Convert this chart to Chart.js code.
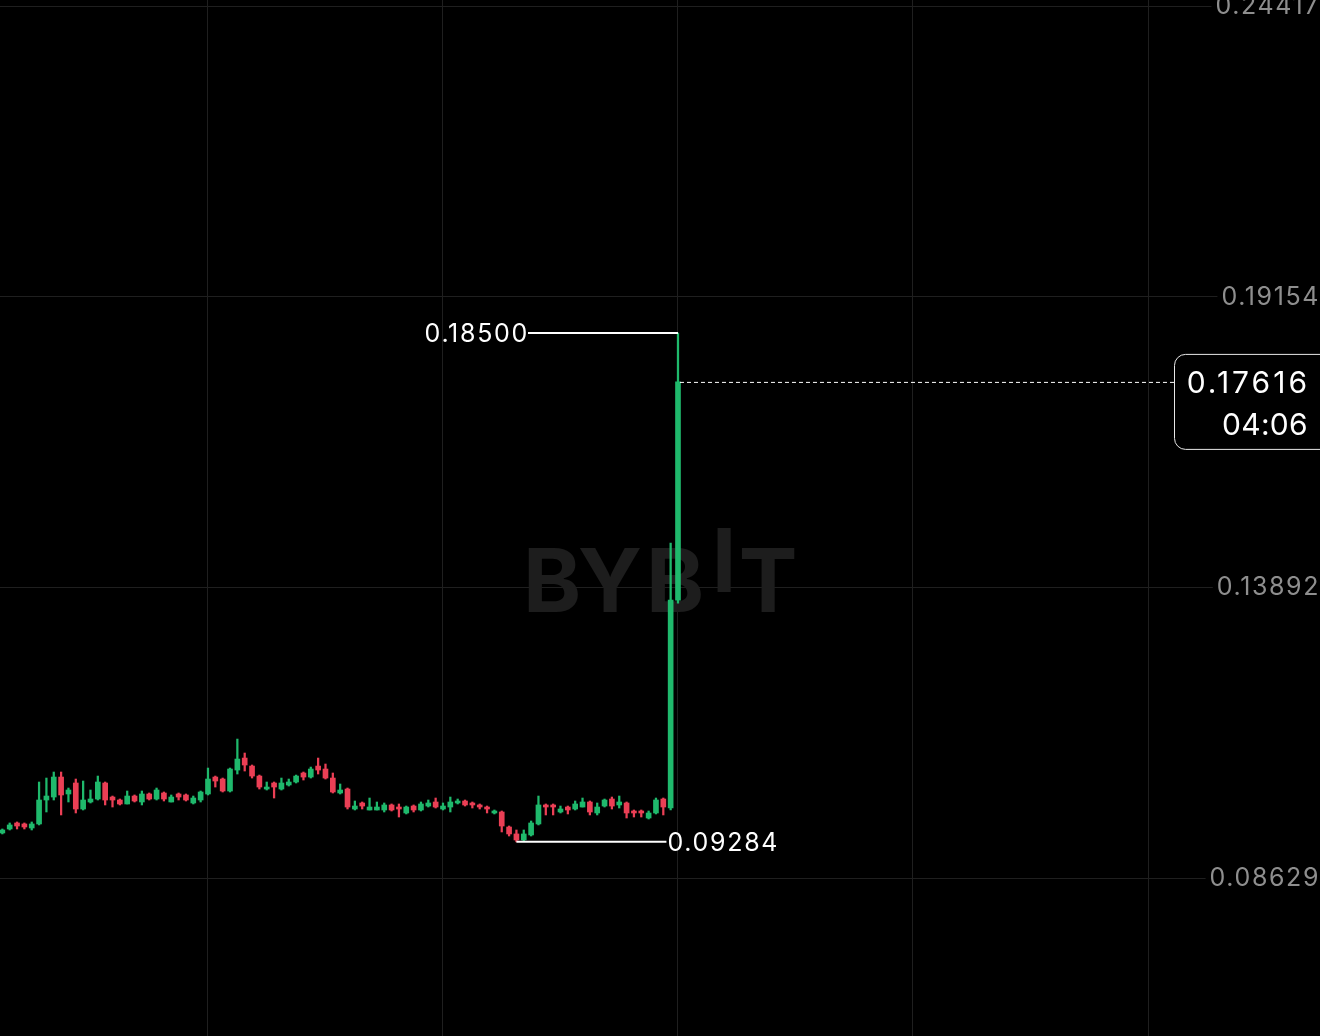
<!DOCTYPE html>
<html>
<head>
<meta charset="utf-8">
<title>Candles</title>
<script src="https://cdn.jsdelivr.net/npm/chart.js@4.4.1/dist/chart.umd.min.js"></script>
<style>
    html, body { margin:0; padding:0; background:#000; overflow:hidden; }
    #wrap { width:1320px; height:1036px; }
</style>
</head>
<body>
<div id="wrap"><canvas id="candleChart" width="1320" height="1036"></canvas></div>
<script>

// ==========================
// DATA
// ==========================

const opens = [
    0.09445,0.09517,0.09626,0.09608,0.09535,0.09608,0.10042,0.10096,0.10458,0.10151,
    0.10350,0.09879,0.10006,0.10060,0.10350,0.10096,0.10042,0.09970,0.10114,0.10006,
    0.10151,0.10060,0.10169,0.10006,0.10151,0.10133,0.09988,0.10042,0.10151,0.10458,
    0.10422,0.10205,0.10585,0.10802,0.10657,0.10476,0.10241,0.10350,0.10241,0.10314,
    0.10368,0.10531,0.10458,0.10657,0.10603,0.10440,0.10169,0.10241,0.09879,0.09988,
    0.09861,0.09861,0.09861,0.09952,0.09915,0.09807,0.09933,0.09861,0.09933,0.10006,
    0.09879,0.09915,0.09988,0.10024,0.09988,0.09952,0.09915,0.09807,0.09825,0.09553,
    0.09427,0.09318,0.09409,0.09608,0.09952,0.09952,0.09825,0.09915,0.09879,0.09915,
    0.10006,0.09807,0.09933,0.10060,0.09952,0.09988,0.09843,0.09843,0.09716,0.09807,
    0.10060,0.09897,0.13662
];

const highs = [
    0.09517,0.09626,0.09644,0.09626,0.09644,0.10368,0.10440,0.10549,0.10549,0.10259,
    0.10422,0.10386,0.10223,0.10476,0.10368,0.10114,0.10060,0.10205,0.10133,0.10205,
    0.10169,0.10259,0.10187,0.10133,0.10169,0.10151,0.10114,0.10205,0.10621,0.10476,
    0.10440,0.10621,0.11146,0.10893,0.10676,0.10494,0.10368,0.10368,0.10440,0.10422,
    0.10494,0.10549,0.10639,0.10802,0.10694,0.10531,0.10332,0.10259,0.10024,0.10006,
    0.10078,0.10006,0.09988,0.09970,0.09970,0.09933,0.09952,0.10006,0.10042,0.10078,
    0.09988,0.10096,0.10060,0.10042,0.10006,0.09970,0.09933,0.09861,0.09843,0.09571,
    0.09499,0.09499,0.09662,0.10114,0.09970,0.09970,0.09933,0.09933,0.10024,0.10078,
    0.10024,0.09988,0.10060,0.10096,0.10114,0.10006,0.09861,0.09861,0.09843,0.10078,
    0.10078,0.14694,0.18500
];

const lows = [
    0.09427,0.09499,0.09517,0.09517,0.09499,0.09590,0.09825,0.10042,0.09771,0.10006,
    0.09807,0.09861,0.09988,0.10042,0.09952,0.09915,0.09952,0.09970,0.10006,0.09952,
    0.10042,0.10042,0.10024,0.10006,0.10042,0.10024,0.09970,0.10006,0.10133,0.10277,
    0.10187,0.10187,0.10513,0.10567,0.10440,0.10241,0.10223,0.10078,0.10223,0.10295,
    0.10350,0.10404,0.10440,0.10513,0.10422,0.10169,0.10151,0.09879,0.09861,0.09879,
    0.09861,0.09861,0.09825,0.09843,0.09734,0.09789,0.09825,0.09843,0.09915,0.09897,
    0.09861,0.09825,0.09970,0.09933,0.09897,0.09879,0.09807,0.09789,0.09463,0.09390,
    0.09284,0.09300,0.09390,0.09590,0.09771,0.09771,0.09807,0.09789,0.09861,0.09915,
    0.09771,0.09771,0.09915,0.09879,0.09897,0.09716,0.09734,0.09734,0.09698,0.09789,
    0.09771,0.09861,0.13608
];

const closes = [
    0.09499,0.09590,0.09571,0.09553,0.09608,0.10042,0.10114,0.10458,0.10133,0.10223,
    0.09879,0.10042,0.10060,0.10368,0.10042,0.10042,0.09970,0.10114,0.10024,0.10151,
    0.10060,0.10223,0.10060,0.10096,0.10096,0.10042,0.10078,0.10187,0.10422,0.10386,
    0.10205,0.10603,0.10784,0.10676,0.10476,0.10277,0.10277,0.10277,0.10350,0.10368,
    0.10476,0.10458,0.10603,0.10585,0.10440,0.10187,0.10223,0.09915,0.09933,0.09933,
    0.09915,0.09915,0.09952,0.09861,0.09879,0.09915,0.09861,0.09970,0.09988,0.09915,
    0.09933,0.10006,0.10024,0.09952,0.09952,0.09915,0.09879,0.09843,0.09571,0.09427,
    0.09318,0.09427,0.09626,0.09952,0.09915,0.09915,0.09879,0.09861,0.09970,0.10006,
    0.09825,0.09915,0.10042,0.09933,0.10006,0.09807,0.09807,0.09807,0.09807,0.10042,
    0.09915,0.13662,0.17616
];

// price axis ticks and time grid positions (candle index)
const priceTicks = [0.08629, 0.13892, 0.19154, 0.24417];
const timeGrid = [-4, 28, 60, 92, 124, 156];

const countdown = "04:06";

const GREEN = "#1fb96c";
const RED = "#eb3f55";

// ==========================
// BUILD DATASETS
// ==========================

let bodies = [];
let wicks = [];

opens.forEach((o, i) => {
    bodies.push({ x: i, y: [o, closes[i]] });
    wicks.push({ x: i, y: [lows[i], highs[i]] });
});

function candleColor(ctx){
    let i = ctx.dataIndex;
    return closes[i] >= opens[i] ? GREEN : RED;
}

// ==========================
// PLUGINS
// ==========================

// wider tracking, like the app's font
const tracking = {
    id: "tracking",
    beforeLayout(chart){ chart.ctx.letterSpacing = "1.6px"; },
    beforeDraw(chart){ chart.ctx.letterSpacing = "1.6px"; }
};

const watermark = {
    id: "watermark",
    beforeDatasetsDraw(chart){
        const c = chart.ctx;
        c.save();
        c.letterSpacing = "0px";
        c.fillStyle = "#1d1d1d";
        c.font = "bold 88px Inter";
        c.textAlign = "center";
        c.textBaseline = "alphabetic";
        c.fillText("B", 552, 612);
        c.fillText("Y", 610, 612);
        c.fillText("B", 675, 612);
        c.fillText("I", 724, 592);
        c.fillText("T", 768, 612);
        c.restore();
    }
};

const markers = {
    id: "markers",
    afterDatasetsDraw(chart){
        const c = chart.ctx;
        const xs = chart.scales.x;
        const ys = chart.scales.y;

        let hi = Math.max(...highs);
        let lo = Math.min(...lows);
        let hiIdx = highs.indexOf(hi);
        let loIdx = lows.indexOf(lo);
        let last = closes.length - 1;

        c.save();
        c.font = "25px Inter";
        c.letterSpacing = "1.7px";
        c.fillStyle = "#ffffff";
        c.strokeStyle = "#ffffff";
        c.lineWidth = 2;
        c.textBaseline = "middle";

        // max
        let hx = xs.getPixelForValue(hiIdx);
        let hy = ys.getPixelForValue(hi);
        c.beginPath();
        c.moveTo(hx, hy);
        c.lineTo(hx - 150, hy);
        c.stroke();
        c.textAlign = "right";
        c.fillText(hi.toFixed(5), hx - 149, hy + 1);

        // min
        let lx = xs.getPixelForValue(loIdx);
        let ly = ys.getPixelForValue(lo);
        c.beginPath();
        c.moveTo(lx, ly);
        c.lineTo(lx + 150, ly);
        c.stroke();
        c.textAlign = "left";
        c.fillText(lo.toFixed(5), lx + 151, ly + 2);

        // last price line
        let px = xs.getPixelForValue(last);
        let py = ys.getPixelForValue(closes[last]);
        let boxX = 1174;
        c.lineWidth = 1;
        c.setLineDash([4, 3]);
        c.beginPath();
        c.moveTo(px + 2, py + 0.5);
        c.lineTo(boxX, py + 0.5);
        c.stroke();
        c.setLineDash([]);

        c.fillStyle = "#000000";
        c.strokeStyle = "#e8e8e8";
        c.beginPath();
        c.roundRect(boxX + 0.5, py - 27.5, 170, 95, 11);
        c.fill();
        c.stroke();

        c.fillStyle = "#ffffff";
        c.font = "30px Inter";
        c.textAlign = "right";
        c.letterSpacing = "3px";
        c.fillText(closes[last].toFixed(5), 1310, py + 2);
        c.letterSpacing = "0.3px";
        c.fillText(countdown, 1308, py + 44);
        c.restore();
    }
};

// ==========================
// CHART
// ==========================

new Chart(document.getElementById("candleChart"), {

    type: "bar",

    data: {
        datasets: [
            {
                label: "wick",
                data: wicks,
                backgroundColor: candleColor,
                barThickness: 1.6,
                grouped: false,
                order: 2
            },
            {
                label: "body",
                data: bodies,
                backgroundColor: candleColor,
                barThickness: 5,
                grouped: false,
                order: 1
            }
        ]
    },

    options: {
        responsive: false,
        animation: false,
        devicePixelRatio: 1,
        layout: { padding: 0 },
        plugins: {
            legend: { display: false },
            tooltip: { enabled: false }
        },
        scales: {
            x: {
                type: "linear",
                offset: false,
                min: -0.32,
                max: 179.42,
                grid: { color: "#1f1f1f", drawTicks: false, offset: false },
                border: { display: false },
                ticks: { display: false },
                afterBuildTicks: s => { s.ticks = timeGrid.map(v => ({ value: v })); },
                afterFit: s => {
                    s.height = 0;
                    s.paddingLeft = 0;
                    s.paddingRight = 0;
                }
            },
            y: {
                position: "right",
                min: 0.05767,
                max: 0.24534,
                grid: { color: "#1f1f1f", drawTicks: false },
                border: { display: false },
                ticks: {
                    mirror: true,
                    padding: 0,
                    color: "#8e8e8e",
                    font: { family: "Inter", size: 25 },
                    showLabelBackdrop: true,
                    backdropColor: "#000000",
                    backdropPadding: { left: 4, right: 4, top: 3, bottom: 3 },
                    callback: v => v.toFixed(5)
                },
                afterBuildTicks: s => { s.ticks = priceTicks.map(v => ({ value: v })); },
                afterFit: s => {
                    s.width = 0;
                    s.paddingTop = 0;
                    s.paddingBottom = 0;
                }
            }
        }
    },

    plugins: [tracking, watermark, markers]

});

</script>
</body>
</html>
